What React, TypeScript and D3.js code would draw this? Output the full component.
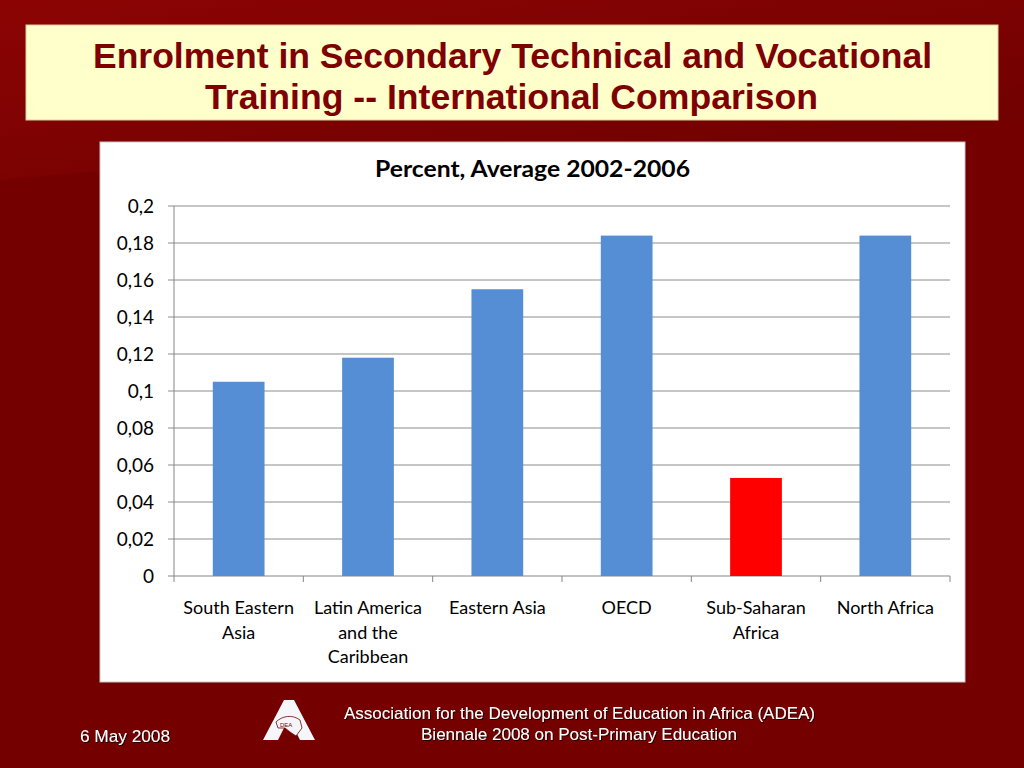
import React from "react";
import * as d3 from "d3";

const categories = [
  ["South Eastern", "Asia"],
  ["Latin America", "and the", "Caribbean"],
  ["Eastern Asia"],
  ["OECD"],
  ["Sub-Saharan", "Africa"],
  ["North Africa"],
];
const values = [0.105, 0.118, 0.155, 0.184, 0.053, 0.184];
const barColors = ["#558ed5", "#558ed5", "#558ed5", "#558ed5", "#ff0000", "#558ed5"];
const yTicks = [0, 0.02, 0.04, 0.06, 0.08, 0.1, 0.12, 0.14, 0.16, 0.18, 0.2];

const W = 1024;
const H = 768;
const plot = { left: 174, right: 950, top: 206, bottom: 576 };

const App: React.FC = () => {
  const x = d3
    .scaleBand<number>()
    .domain(d3.range(categories.length))
    .range([plot.left, plot.right])
    .padding(0);
  const y = d3.scaleLinear().domain([0, 0.2]).range([plot.bottom, plot.top]);
  const barW = x.bandwidth() / 2.5;
  const fmt = (v: number) => String(+v.toFixed(2)).replace(".", ",");
  const labelFont = "Lato, 'Open Sans', sans-serif";

  return (
    <svg
      width={W}
      height={H}
      style={{ position: "absolute", left: 0, top: 0 }}
    >
      <defs>
        <linearGradient id="bg" x1="0" y1="0" x2="1" y2="1">
          <stop offset="0" stopColor="#8c0404" />
          <stop offset="1" stopColor="#6c0000" />
        </linearGradient>
        <filter id="sh" x="-5%" y="-5%" width="110%" height="120%">
          <feDropShadow dx="1" dy="1" stdDeviation="0.6" floodColor="#000" floodOpacity="0.8" />
        </filter>
      </defs>
      <rect width={W} height={H} fill="#750000" />
      <path d="M0,0 H1024 V120 C700,150 300,150 0,180 Z" fill="url(#bg)" />

      {/* title box */}
      <rect x={26} y={25} width={972} height={95} fill="#ffffcc" stroke="#d9cfa0" />
      <g
        fill="#7f0000"
        fontFamily="'Liberation Sans', Arial, sans-serif"
        fontWeight="bold"
        fontSize={35}
      >
        <text x={93} y={68} textLength={839} lengthAdjust="spacingAndGlyphs">
          Enrolment in Secondary Technical and Vocational
        </text>
        <text x={205} y={109} textLength={613} lengthAdjust="spacingAndGlyphs">
          Training -- International Comparison
        </text>
      </g>

      {/* chart panel */}
      <rect x={100} y={142} width={865} height={540} fill="#fff" stroke="#c8c8c8" />
      <text
        x={375}
        y={177}
        textLength={315}
        lengthAdjust="spacingAndGlyphs"
        fontFamily={labelFont}
        fontWeight="bold"
        fontSize={23}
        fill="#000"
      >
        Percent, Average 2002-2006
      </text>

      {/* gridlines and y axis */}
      {yTicks.map((t) => (
        <g key={t}>
          <line
            x1={plot.left - 6}
            x2={plot.right}
            y1={y(t)}
            y2={y(t)}
            stroke={t === 0 ? "#868686" : "#8c8c8c"}
            strokeWidth={1}
          />
          <text
            x={154}
            y={y(t)}
            dy="0.35em"
            textAnchor="end"
            fontFamily={labelFont}
            fontSize={19}
            fill="#000"
          >
            {fmt(t)}
          </text>
        </g>
      ))}
      <line x1={plot.left} x2={plot.left} y1={plot.top} y2={plot.bottom} stroke="#868686" />

      {/* x ticks */}
      {d3.range(categories.length + 1).map((i) => {
        const xx = i < categories.length ? (x(i) as number) : plot.right;
        return (
          <line key={i} x1={xx} x2={xx} y1={plot.bottom} y2={plot.bottom + 6} stroke="#868686" />
        );
      })}

      {/* bars */}
      {values.map((v, i) => {
        const cx = (x(i) as number) + x.bandwidth() / 2;
        return (
          <rect
            key={i}
            x={cx - barW / 2}
            y={y(v)}
            width={barW}
            height={plot.bottom - y(v)}
            fill={barColors[i]}
          />
        );
      })}

      {/* category labels */}
      {categories.map((lines, i) => {
        const cx = (x(i) as number) + x.bandwidth() / 2;
        return (
          <text
            key={i}
            textAnchor="middle"
            fontFamily={labelFont}
            fontSize={18}
            fill="#000"
          >
            {lines.map((l, j) => (
              <tspan key={j} x={cx} y={614 + j * 24.5}>
                {l}
              </tspan>
            ))}
          </text>
        );
      })}

      {/* footer */}
      <g fill="#fff" fontFamily="'Liberation Sans', Arial, sans-serif" fontSize={16.5} filter="url(#sh)">
        <text x={80} y={742} textLength={90} lengthAdjust="spacingAndGlyphs">6 May 2008</text>
        <text x={344} y={719} textLength={471} lengthAdjust="spacingAndGlyphs">
          Association for the Development of Education in Africa (ADEA)
        </text>
        <text x={421} y={740} textLength={316} lengthAdjust="spacingAndGlyphs">
          Biennale 2008 on Post-Primary Education
        </text>
      </g>
      {/* logo */}
      <g>
        <path d="M263,740 L284,700 L294,700 L315,740 L300,740 L289,718 L278,740 Z" fill="#f4f6fa" />
        <path d="M276,722 C282,716 292,714 300,720 L302,728 L296,736 L290,732 L285,728 L278,728 Z" fill="#f4f6fa" stroke="#750000" strokeWidth={0.8} />
        <text x={280} y={727} fontSize={6} fill="#750000" fontFamily="Arial">DEA</text>
      </g>
    </svg>
  );
};

export default App;
